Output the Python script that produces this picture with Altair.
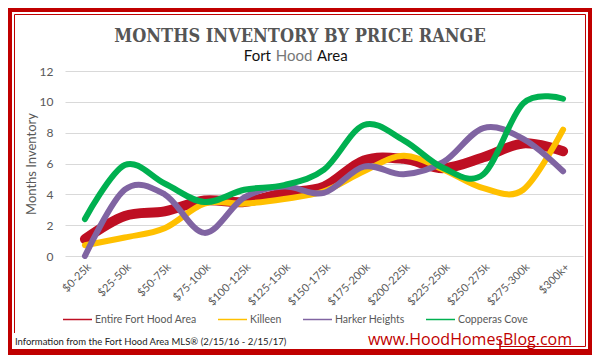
import altair as alt
import pandas as pd

categories = ["$0-25k", "$25-50k", "$50-75k", "$75-100k", "$100-125k", "$125-150k",
              "$150-175k", "$175-200k", "$200-225k", "$225-250k", "$250-275k",
              "$275-300k", "$300k+"]
series_names = ["Entire Fort Hood Area", "Killeen", "Harker Heights", "Copperas Cove"]
entire = [1.1, 2.6, 2.9, 3.6, 3.5, 4.1, 4.5, 6.2, 6.3, 5.7, 6.4, 7.3, 6.8]
killeen = [0.7, 1.2, 1.8, 3.4, 3.4, 3.7, 4.2, 5.5, 6.5, 5.6, 4.4, 4.3, 8.2]
harker = [0.0, 4.3, 4.0, 1.5, 3.8, 4.5, 4.1, 5.8, 5.3, 6.1, 8.3, 7.6, 5.5]
copperas = [2.4, 5.9, 4.7, 3.5, 4.3, 4.6, 5.6, 8.5, 7.5, 5.7, 5.3, 9.9, 10.2]
colors = ["#be0f23", "#ffc000", "#8064a2", "#00b050"]
y_ticks = [0, 2, 4, 6, 8, 10, 12]

title_text = "MONTHS INVENTORY BY PRICE RANGE"
footer_text = "Information from the Fort Hood Area MLS® (2/15/16 - 2/15/17)"
site_text = "www.HoodHomesBlog.com"

RED = "#c00000"
GRAY = "#595959"

rows = []
for name, vals in zip(series_names, [entire, killeen, harker, copperas]):
    for i, (c, v) in enumerate(zip(categories, vals)):
        rows.append({"idx": i, "cat": c, "series": name, "value": v})
df = pd.DataFrame(rows)

W, H = 518, 185
PL, PT, PR, PB = 57, 63, 9, 99
CW, CH = W + PL + PR, H + PT + PB

one = alt.Data(values=[{}])

x_enc = alt.X("cat:N", sort=categories, scale=alt.Scale(domain=categories, type="point", padding=0.5),
              axis=alt.Axis(title=None, labelAngle=-45, labelFont="Lato", labelFontSize=11,
                            labelColor=GRAY, domain=False, ticks=False, grid=False, labelPadding=5))
y_enc = alt.Y("value:Q", scale=alt.Scale(domain=[0, 12], nice=False),
              axis=alt.Axis(title="Months Inventory", values=y_ticks, labelFont="Lato", labelFontSize=12,
                            labelColor=GRAY, titleFont="Lato", titleFontSize=13, titleFontWeight="normal",
                            titleColor=GRAY, titlePadding=1, domain=False, ticks=False, labelPadding=12,
                            gridColor="#d9d9d9", gridWidth=1))
color_scale = alt.Scale(domain=series_names, range=colors)
color_nolegend = alt.Color("series:N", sort=series_names, scale=color_scale, legend=None)
color_legend = alt.Color("series:N", sort=series_names, scale=color_scale,
                         legend=alt.Legend(title=None, orient="none", direction="horizontal", columns=4,
                                           legendX=-3, legendY=233, symbolType="stroke", symbolSize=841,
                                           labelFont="Lato", labelFontSize=10.5, labelColor=GRAY,
                                           columnPadding=18, labelOffset=2))

base = alt.Chart(df).encode(x=x_enc, y=y_enc, color=color_nolegend, order=alt.Order("idx:Q"))
line_red = base.transform_filter(alt.datum.series == series_names[0]).mark_line(
    interpolate="cardinal", strokeCap="round", strokeJoin="round", strokeWidth=10)
line_rest = base.transform_filter(alt.datum.series != series_names[0]).mark_line(
    interpolate="cardinal", strokeCap="round", strokeJoin="round", strokeWidth=6)
# legend-only layer (draws nothing; carries the thin legend swatches)
legend_layer = alt.Chart(df).transform_filter("datum.value < 0").mark_line(
    strokeWidth=4.5, strokeCap="round").encode(x=x_enc, y=y_enc, color=color_legend)

frame = alt.Chart(one).mark_rect(fill="transparent", stroke=RED, strokeWidth=8).encode(
    x=alt.value(-PL), x2=alt.value(CW - PL), y=alt.value(-PT), y2=alt.value(CH - PT))
frame_bottom = alt.Chart(one).mark_rule(color=RED, strokeWidth=2).encode(
    x=alt.value(-PL), x2=alt.value(CW - PL), y=alt.value(CH - PT - 5))
inner = alt.Chart(one).mark_rect(fill="transparent", stroke=RED, strokeWidth=1).encode(
    x=alt.value(-PL + 6.5), x2=alt.value(CW - PL - 6.5), y=alt.value(-PT + 6.5), y2=alt.value(CH - PT - 8.5))
footer_box = alt.Chart(one).mark_rect(fill="white").encode(
    x=alt.value(-PL + 4), x2=alt.value(435), y=alt.value(262), y2=alt.value(CH - PT - 6))
box_edge = alt.Chart(one).mark_rule(color=RED, strokeWidth=1.5).encode(
    x=alt.value(435), y=alt.value(268), y2=alt.value(CH - PT - 6))

title = alt.Chart(one).mark_text(text=title_text, font="DejaVu Serif Condensed", fontWeight="bold",
                                 fontSize=18, color="#555555", align="center", baseline="alphabetic").encode(
    x=alt.value(235), y=alt.value(-29))
sub_fort = alt.Chart(one).mark_text(text="Fort", font="Lato", fontSize=15, color="#111111",
                                    align="right", baseline="alphabetic").encode(x=alt.value(206), y=alt.value(-10))
sub_hood = alt.Chart(one).mark_text(text="Hood", font="Lato", fontSize=15, color="#777777",
                                    align="center", baseline="alphabetic").encode(x=alt.value(229), y=alt.value(-10))
sub_area = alt.Chart(one).mark_text(text="Area", font="Lato", fontSize=15, color="#111111",
                                    align="left", baseline="alphabetic").encode(x=alt.value(252), y=alt.value(-10))
footer = alt.Chart(one).mark_text(text=footer_text, font="Lato", fontSize=9.5, color="#222222",
                                  align="left", baseline="alphabetic").encode(x=alt.value(-50), y=alt.value(274))
site = alt.Chart(one).mark_text(text=site_text, font="Open Sans", fontSize=16, color=RED,
                                align="right", baseline="alphabetic").encode(x=alt.value(507), y=alt.value(274))

chart = alt.layer(
    line_red, line_rest, legend_layer, frame, frame_bottom, inner, footer_box, box_edge,
    title, sub_fort, sub_hood, sub_area, footer, site
).resolve_legend(color="independent").properties(
    width=W, height=H,
    autosize=alt.AutoSizeParams(type="none"),
    padding={"left": PL, "top": PT, "right": PR, "bottom": PB},
    background="white",
).configure_view(stroke=None)

chart.save("out.html", embed_options={"renderer": "svg", "actions": False})
